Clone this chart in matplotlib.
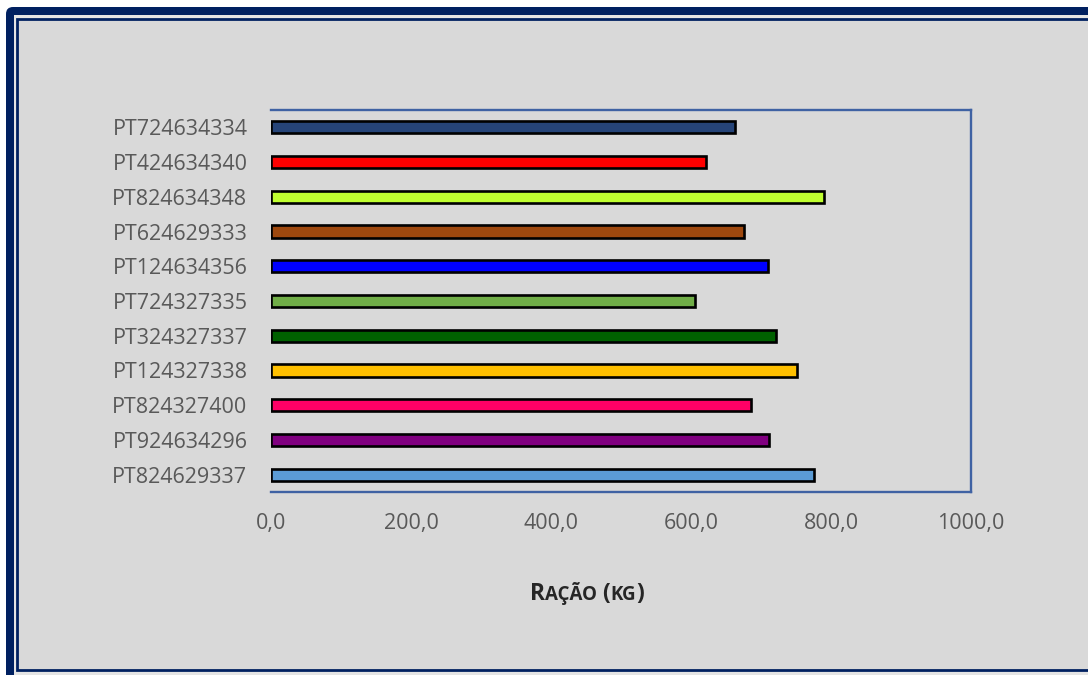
import matplotlib
matplotlib.use("Agg")
import matplotlib.pyplot as plt
from matplotlib.patches import FancyBboxPatch, Rectangle


# animals, listed from top to bottom of the chart
animals = ["PT724634334", "PT424634340", "PT824634348", "PT624629333",
           "PT124634356", "PT724327335", "PT324327337", "PT124327338",
           "PT824327400", "PT924634296", "PT824629337"]
# feed consumed by each animal (kg)
feed = [663, 621, 790, 676, 710, 605, 721, 751, 685, 712, 776]
bar_colors = ["#264478", "#FF0000", "#C0FF30", "#9E480E", "#0000FF",
              "#70AD47", "#006100", "#FFC000", "#FF0066", "#800080",
              "#5B9BD5"]
x_ticks = [0, 200, 400, 600, 800, 1000]
x_tick_labels = ["0,0", "200,0", "400,0", "600,0", "800,0", "1000,0"]

W, H = 1088, 675
NAVY = "#002060"
BG = "#D9D9D9"
FRAME = "#3F62A3"


def box(x0, y0, x1, y1):
    # pixel box (top-left origin) -> inches from the bottom-left corner
    return x0 / 100, (H - y1) / 100, (x1 - x0) / 100, (y1 - y0) / 100


def main():
    fig = plt.figure(figsize=(W / 100, H / 100), dpi=100)
    fig.patch.set_facecolor("white")

    # outer border: thick navy band, light gap, thin navy line
    x, y, w, h = box(6, 7, 1200, 800)
    fig.add_artist(FancyBboxPatch((x, y), w, h,
                                  boxstyle="round,pad=0,rounding_size=0.07",
                                  transform=fig.dpi_scale_trans,
                                  facecolor=NAVY, edgecolor="none", zorder=-10))
    x, y, w, h = box(14, 15, 1200, 800)
    fig.add_artist(Rectangle((x, y), w, h, transform=fig.dpi_scale_trans,
                             facecolor="#E4E4E4", edgecolor="none", zorder=-9))
    x, y, w, h = box(17, 19, 1200, 669.5)
    fig.add_artist(Rectangle((x, y), w, h, transform=fig.dpi_scale_trans,
                             facecolor=BG, edgecolor=NAVY, linewidth=2,
                             zorder=-8))

    ax = fig.add_axes([271 / W, 1 - 492 / H, 700 / W, 382 / H])
    ax.set_facecolor("none")

    pos = list(range(len(animals)))
    ax.barh(pos, feed, height=0.35, color=bar_colors,
            edgecolor="black", linewidth=1.9)

    ax.set_ylim(len(animals) - 0.5, -0.5)
    ax.set_xlim(0, 1000)
    ax.set_yticks(pos)
    ax.set_yticklabels(animals, fontfamily="Open Sans", fontsize=15.5,
                       color="#595959")
    ax.set_xticks(x_ticks)
    ax.set_xticklabels(x_tick_labels, fontfamily="Open Sans", fontsize=15.5,
                       color="#595959")
    ax.tick_params(axis="y", length=0, pad=17)
    ax.tick_params(axis="x", length=0, pad=15)

    ax.spines["left"].set_visible(False)
    for side in ["top", "right", "bottom"]:
        ax.spines[side].set_color(FRAME)
        ax.spines[side].set_linewidth(1.7)

    # axis title in small caps, built from pieces on one baseline
    base = 1 - 600 / H
    pieces = [("R", 16.5), ("AÇÃO", 13.5), (" (", 16.5), ("KG", 13.5),
              (")", 16.5)]
    style = dict(fontweight="bold", fontfamily="Open Sans", color="#262626",
                 va="baseline", ha="left")
    prev = fig.text(530 / W, base, pieces[0][0], fontsize=pieces[0][1],
                    **style)
    for txt, size in pieces[1:]:
        prev = ax.annotate(txt, xy=(1, base),
                           xycoords=(prev, "figure fraction"),
                           fontsize=size, annotation_clip=False, **style)

    plt.savefig("out.png", dpi=100, facecolor=fig.get_facecolor())


if __name__ == "__main__":
    main()
